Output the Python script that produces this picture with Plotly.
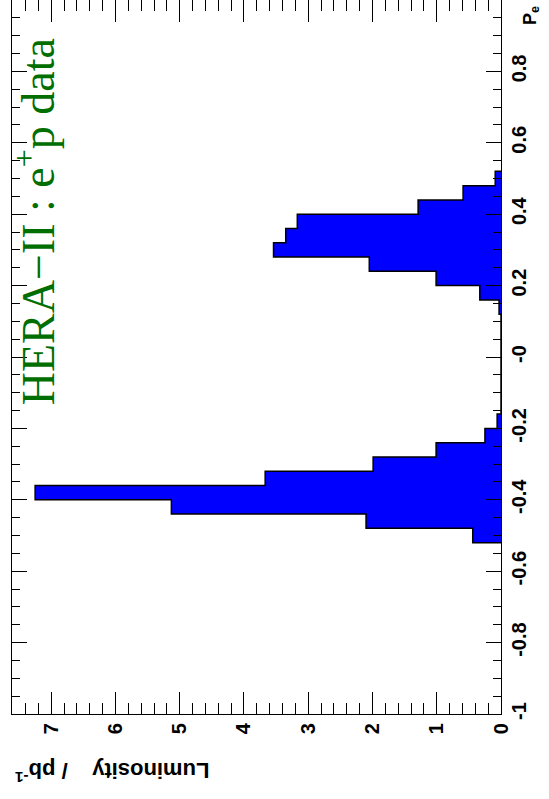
import plotly.graph_objects as go

# Polarisation bins (lower edges) with non-zero luminosity, bin width 0.04
bin_low = [-0.52, -0.48, -0.44, -0.40, -0.36, -0.32, -0.28, -0.24, -0.20,
           0.12, 0.16, 0.20, 0.24, 0.28, 0.32, 0.36, 0.40, 0.44, 0.48]
lumi = [0.44, 2.10, 5.13, 7.25, 3.67, 1.99, 1.01, 0.25, 0.06,
        0.03, 0.33, 1.01, 2.05, 3.54, 3.35, 3.17, 1.29, 0.59, 0.09]
bin_width = 0.04

pe_ticks = [-1, -0.8, -0.6, -0.4, -0.2, 0, 0.2, 0.4, 0.6, 0.8, 1]
pe_labels = ["-1", "-0.8", "-0.6", "-0.4", "-0.2", "-0", "0.2", "0.4", "0.6", "0.8", "1"]
lumi_ticks = [0, 1, 2, 3, 4, 5, 6, 7]

# Step outline of the histogram (luminosity on x, polarisation on y)
xs, ys = [0.0], [bin_low[0]]
for i, (lo, v) in enumerate(zip(bin_low, lumi)):
    hi = round(lo + bin_width, 6)
    xs += [v, v]
    ys += [lo, hi]
    nxt = bin_low[i + 1] if i + 1 < len(bin_low) else None
    if nxt is None or abs(nxt - hi) > 1e-9:
        xs.append(0.0)
        ys.append(hi)
        if nxt is not None:
            xs.append(0.0)
            ys.append(nxt)

fig = go.Figure()
fig.add_trace(go.Scatter(
    x=xs, y=ys, mode="lines", fill="toself",
    fillcolor="#0000ff", line=dict(color="black", width=1.5),
    hoverinfo="skip", showlegend=False,
))

tick_font = dict(family="Liberation Sans", size=20, color="black", weight="bold")

fig.update_xaxes(
    range=[7.61, 0], tickvals=lumi_ticks, ticks="inside", ticklen=22,
    tickwidth=1, tickcolor="black", tickangle=-90, tickfont=tick_font,
    showline=True, linecolor="black", linewidth=1, mirror="ticks",
    showgrid=False, zeroline=False,
    minor=dict(dtick=0.2, ticks="inside", ticklen=11, tickcolor="black", showgrid=False),
)
fig.update_yaxes(
    range=[-1, 1], side="right", tickvals=pe_ticks, ticktext=pe_labels,
    ticks="inside", ticklen=15, tickwidth=1, tickcolor="black",
    tickangle=-90, tickfont=tick_font,
    showline=True, linecolor="black", linewidth=1, mirror="ticks",
    showgrid=False, zeroline=False,
    minor=dict(dtick=0.05, ticks="inside", ticklen=8, tickcolor="black", showgrid=False),
)

fig.add_annotation(
    text="HERA\u2212II : e<sup>+</sup>p data", xref="paper", yref="paper",
    x=0.047, y=0.69, xanchor="center", yanchor="middle", textangle=-90,
    showarrow=False, font=dict(family="Liberation Serif", size=46, color="#006e00"),
)
fig.add_annotation(
    text="Luminosity\u00a0\u00a0\u00a0\u00a0/ pb<sup>-1</sup>", xref="paper", yref="paper",
    x=0.205, y=-0.082, xanchor="center", yanchor="middle", textangle=180,
    showarrow=False, font=dict(family="Liberation Sans", size=22, color="black", weight="bold"),
)
fig.add_annotation(
    text="P<sub>e</sub>", xref="paper", yref="paper",
    x=1.062, y=0.978, xanchor="center", yanchor="middle", textangle=-90,
    showarrow=False, font=dict(family="Liberation Sans", size=18, color="black", weight="bold"),
)

fig.update_layout(
    width=549, height=799, margin=dict(l=12, r=48, t=0, b=85),
    paper_bgcolor="white", plot_bgcolor="white",
)
fig.write_html("out.html")
